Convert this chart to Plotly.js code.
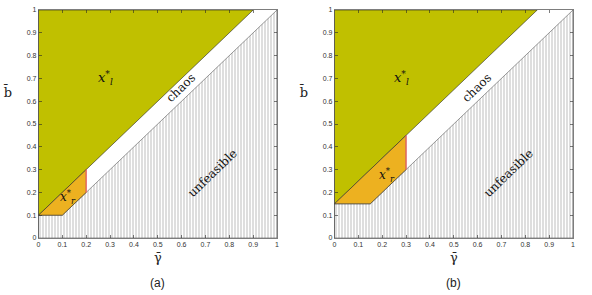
<!DOCTYPE html>
<html>
<head>
<meta charset="utf-8">
<script src="https://cdn.plot.ly/plotly-3.0.1.min.js"></script>
<style>html,body{margin:0;padding:0;background:#fff;}#chart{width:592px;height:295px;}</style>
</head>
<body>
<div id="chart"></div>
<script>
// Tick values
const tickVals = [0, 0.1, 0.2, 0.3, 0.4, 0.5, 0.6, 0.7, 0.8, 0.9, 1];
const tickText = ['0', '0.1', '0.2', '0.3', '0.4', '0.5', '0.6', '0.7', '0.8', '0.9', '1'];

// Panel (a) regions (gamma, b)
const aGreenX = [0, 0.9, 0, 0];
const aGreenY = [0.1, 1, 1, 0.1];
const aOrangeX = [0, 0.1, 0.2, 0.2, 0];
const aOrangeY = [0.1, 0.1, 0.2, 0.3, 0.1];
const aUnfeasX = [0, 0, 0.1, 1, 1, 0];
const aUnfeasY = [0, 0.1, 0.1, 1, 0, 0];
const aRedX = [0.2, 0.2];
const aRedY = [0.2, 0.3];

// Panel (b) regions
const bGreenX = [0, 0.85, 0, 0];
const bGreenY = [0.15, 1, 1, 0.15];
const bOrangeX = [0, 0.15, 0.3, 0.3, 0];
const bOrangeY = [0.15, 0.15, 0.3, 0.45, 0.15];
const bUnfeasX = [0, 0, 0.15, 1, 1, 0];
const bUnfeasY = [0, 0.15, 0.15, 1, 0, 0];
const bRedX = [0.3, 0.3];
const bRedY = [0.3, 0.45];

const GREEN = '#c0c000';
const ORANGE = '#edb120';
const RED = '#ff7070';
const EDGE = '#262626';

function panel(xa, ya, gx, gy, ox, oy, ux, uy, rx, ry) {
  return [
    {x: ux, y: uy, xaxis: xa, yaxis: ya, type: 'scatter', mode: 'lines', fill: 'toself',
     fillcolor: 'white',
     fillpattern: {shape: '|', size: 3, solidity: 0.35, fgcolor: '#bdbdbd', bgcolor: 'white'},
     line: {color: '#555', width: 0.6}, hoverinfo: 'skip'},
    {x: gx, y: gy, xaxis: xa, yaxis: ya, type: 'scatter', mode: 'lines', fill: 'toself',
     fillcolor: GREEN, line: {color: EDGE, width: 0.6}, hoverinfo: 'skip'},
    {x: ox, y: oy, xaxis: xa, yaxis: ya, type: 'scatter', mode: 'lines', fill: 'toself',
     fillcolor: ORANGE, line: {color: EDGE, width: 0.6}, hoverinfo: 'skip'},
    {x: rx, y: ry, xaxis: xa, yaxis: ya, type: 'scatter', mode: 'lines',
     line: {color: RED, width: 1.2}, hoverinfo: 'skip'}
  ];
}

const data = [].concat(
  panel('x', 'y', aGreenX, aGreenY, aOrangeX, aOrangeY, aUnfeasX, aUnfeasY, aRedX, aRedY),
  panel('x2', 'y2', bGreenX, bGreenY, bOrangeX, bOrangeY, bUnfeasX, bUnfeasY, bRedX, bRedY)
);

function axis(domain, anchor) {
  return {
    domain: domain, anchor: anchor, range: [0, 1], tickvals: tickVals, ticktext: tickText,
    ticks: 'inside', ticklen: 3, tickwidth: 0.6, tickcolor: EDGE,
    showline: true, linecolor: EDGE, linewidth: 0.6, mirror: 'ticks',
    showgrid: false, zeroline: false, fixedrange: true,
    tickfont: {family: 'Liberation Sans', size: 7, color: '#333'}
  };
}

const serif = 'DejaVu Serif';
const ann = [];
function A(o) { o.showarrow = false; o.xanchor = 'center'; o.yanchor = 'middle'; ann.push(o); }
function labels(xr, yr, xrpos, yrpos) {
  A({xref: xr, yref: yr, x: 0.28, y: 0.70,
    text: '<i>x</i><sup>*</sup><sub><i>l</i></sub>', font: {family: serif, size: 13, color: '#111'}});
  A({xref: xr, yref: yr, x: 0.595, y: 0.66, textangle: -44,
    text: 'chaos', font: {family: serif, size: 12, color: '#111'}});
  A({xref: xr, yref: yr, x: 0.73, y: 0.285, textangle: -44,
    text: 'unfeasible', font: {family: serif, size: 12, color: '#111'}});
  A({xref: xr, yref: yr, x: xrpos, y: yrpos,
    text: '<i>x</i><sup>*</sup><sub><i>r</i></sub>', font: {family: serif, size: 12, color: '#111'}});
}
labels('x', 'y', 0.125, 0.18);
labels('x2', 'y2', 0.22, 0.275);

// axis titles and panel captions
[[157.7, 7], [453.7, 303]].forEach(function (p, i) {
  A({xref: 'paper', yref: 'paper', x: p[0] / 592, y: 1 - 257 / 295,
    text: '\u03b3\u0304', font: {family: serif, size: 13, color: '#222'}});
  A({xref: 'paper', yref: 'paper', x: p[1] / 592, y: 1 - 92 / 295,
    text: 'b\u0304', font: {family: serif, size: 13, color: '#222'}});
  A({xref: 'paper', yref: 'paper', x: p[0] / 592, y: 1 - 283 / 295,
    text: i === 0 ? '(a)' : '(b)', font: {family: 'Liberation Sans', size: 12, color: '#222'}});
});

const yDom = [1 - 238 / 295, 1 - 10 / 295];
const layout = {
  width: 592, height: 295,
  margin: {l: 0, r: 0, t: 0, b: 0},
  paper_bgcolor: 'white', plot_bgcolor: 'white',
  showlegend: false,
  xaxis: axis([38.5 / 592, 277 / 592], 'y'),
  yaxis: axis(yDom, 'x'),
  xaxis2: axis([334.5 / 592, 573 / 592], 'y2'),
  yaxis2: axis(yDom, 'x2'),
  annotations: ann
};

Plotly.newPlot('chart', data, layout, {staticPlot: true, displayModeBar: false});
</script>
</body>
</html>
